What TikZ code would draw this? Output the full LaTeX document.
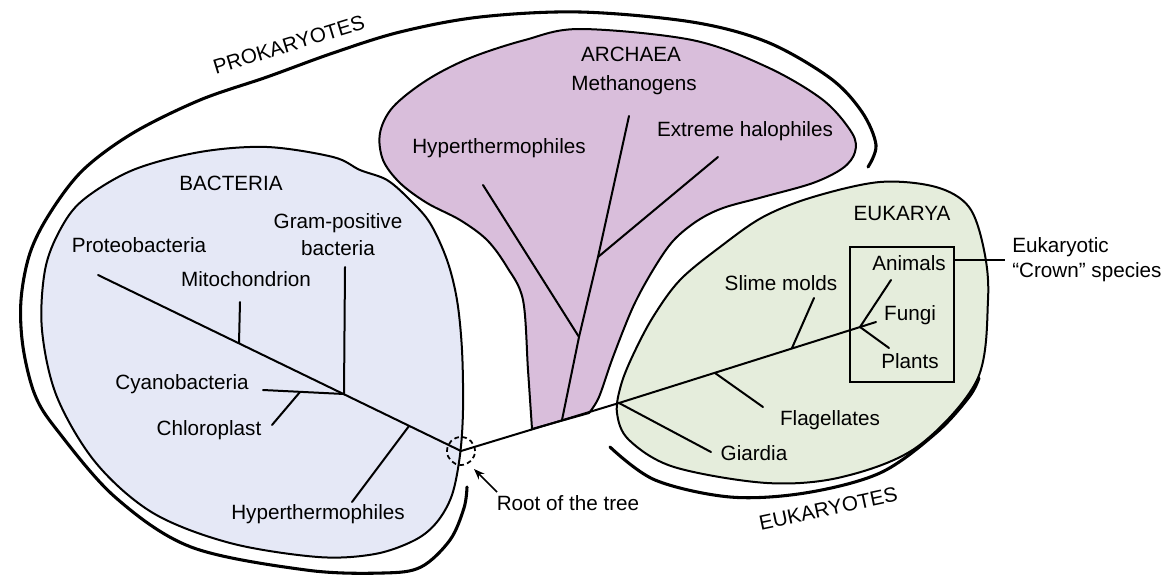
\documentclass[tikz,border=0pt]{standalone}
\usepackage{fontspec}
\setmainfont{Liberation Sans}
\usetikzlibrary{arrows.meta}
\definecolor{bactfill}{RGB}{229,232,246}
\definecolor{archfill}{RGB}{217,190,219}
\definecolor{eukfill}{RGB}{229,237,220}
\begin{document}
\begin{tikzpicture}[x=0.75pt,y=-0.75pt,
  lbl/.style={font=\fontsize{15.5}{19}\selectfont, inner sep=0pt, anchor=mid},
  twolbl/.style={font=\fontsize{15.5}{19}\selectfont, inner sep=0pt},
  treeline/.style={line width=1.5pt, line cap=round, line join=round},
  outline/.style={line width=1.5pt},
  bracket/.style={line width=2.3pt, line cap=round},
]
\useasboundingbox (0,0) rectangle (1167,578);
\fill[white] (0,0) rectangle (1167,578);

% ---------- regions ----------
\filldraw[fill=bactfill, outline] plot[smooth cycle, tension=0.55] coordinates {
 (83,200) (133,170) (200,152) (267,147) (333,157) (360,170) (387,180) (410,200)
 (430,223) (447,260) (457,300) (462,350) (463,410) (460,455) (452,495) (437,522)
 (415,540) (375,554) (318,557) (230,543) (153,513) (96,463) (57,397) (42,330)
 (45,270) (60,230)};

\filldraw[fill=archfill, outline] plot[smooth, tension=0.55] coordinates {
 (532,429) (528,370) (523,300) (507,267) (487,240) (460,220) (427,203) (400,183)
 (383,160) (380,133) (393,107) (427,80) (470,58) (525,40) (580,29) (692,40)
 (767,67) (823,100) (852,133) (855,152) (843,168) (813,183) (763,197) (723,208)
 (697,221) (673,241) (653,270) (633,307) (613,357) (599,397) (589,413)} -- cycle;

\filldraw[fill=eukfill, outline] plot[smooth cycle, tension=0.55] coordinates {
 (880,182) (936,187) (969,207) (984,250) (988,300) (977,380) (917,447) (842,477)
 (767,483) (674,467) (629,440) (617,413) (621,385) (633,355) (653,317) (680,280)
 (720,247) (763,217) (813,197)};

% ---------- brackets ----------
\draw[bracket] plot[smooth, tension=0.55] coordinates {
 (868,167) (876,145) (862,112) (830,78) (767,42) (692,22) (580,12) (480,17)
 (400,32) (333,53) (267,77) (200,100) (133,133) (83,170) (50,213) (30,253)
 (21,300) (23,347) (35,395) (57,430) (115,497) (191,547) (306,570) (383,573)
 (421,567) (450,540) (464,508) (467,487)};

\draw[bracket] plot[smooth, tension=0.55] coordinates {
 (610,447) (655,480) (730,497) (805,493) (880,473) (936,433) (969,397) (979,378)};

% ---------- tree coordinates ----------
\coordinate (root) at (461,451);
\coordinate (proteo) at (98,275);
\coordinate (mitoN) at (239,343);
\coordinate (mitoE) at (240,302);
\coordinate (gramN) at (344,394);
\coordinate (gramE) at (345,267);
\coordinate (cyanE) at (263,390);
\coordinate (chloN) at (300,392);
\coordinate (chloE) at (272,425);
\coordinate (bhypN) at (409,426);
\coordinate (bhypE) at (352,502);

\coordinate (archN) at (562,420);
\coordinate (archN1) at (579,337);
\coordinate (ahypE) at (483,185);
\coordinate (archN2) at (598,257);
\coordinate (methE) at (629,116);
\coordinate (haloE) at (718,157);

\coordinate (eukN) at (619,403);
\coordinate (giarE) at (711,452);
\coordinate (flagN) at (715,373);
\coordinate (flagE) at (763,407);
\coordinate (slimN) at (792,348);
\coordinate (slimE) at (814,298);
\coordinate (crownN) at (860,327);
\coordinate (fungE) at (876,322);
\coordinate (animE) at (891,280);
\coordinate (plantE) at (889,348);

% ---------- tree lines ----------
\draw[treeline] (proteo) -- (root) -- (eukN) -- (fungE);
\draw[treeline] (mitoN) -- (mitoE);
\draw[treeline] (gramN) -- (gramE);
\draw[treeline] (gramN) -- (cyanE);
\draw[treeline] (chloN) -- (chloE);
\draw[treeline] (bhypN) -- (bhypE);
\draw[treeline] (archN) -- (archN1) -- (ahypE);
\draw[treeline] (archN1) -- (archN2) -- (methE);
\draw[treeline] (archN2) -- (haloE);
\draw[treeline] (eukN) -- (giarE);
\draw[treeline] (flagN) -- (flagE);
\draw[treeline] (slimN) -- (slimE);
\draw[treeline] (crownN) -- (animE);
\draw[treeline] (crownN) -- (plantE);

% ---------- root marker ----------
\node[draw, circle, dashed, dash pattern=on 3.5pt off 2.5pt, line width=1.3pt,
      minimum size=21pt, inner sep=0pt] (rootcirc) at (root) {};
\node[lbl] (rootlbl) at (568,507) {Root of the tree};
\coordinate (arrT) at (497,492);
\coordinate (arrH) at (474,469);
\draw[line width=1.3pt, -{Stealth[length=8pt,width=6pt]}] (arrT) -- (arrH);

% ---------- crown box ----------
\node[draw, line width=1.5pt, inner sep=0pt, minimum width=78pt, minimum height=101.25pt]
  (crownbox) at (902,314.5) {};
\node[twolbl, align=left, anchor=west, font=\fontsize{15.5}{18.75}\selectfont]
  (crownlbl) at (1012,259.5) {Eukaryotic\\“Crown” species};
\draw[line width=1.5pt] (crownbox.east |- crownlbl.west) -- ([xshift=-5pt]crownlbl.west);

% ---------- labels ----------
\node[lbl, rotate=17] (prok) at (290,48) {PROKARYOTES};
\node[lbl, rotate=12] (euk) at (829,512) {EUKARYOTES};

\node[lbl] (bact) at (231,187) {BACTERIA};
\node[twolbl, align=center, font=\fontsize{15.5}{20.25}\selectfont] (gram) at (338,235) {Gram-positive\\bacteria};
\node[lbl] (proteolbl) at (139,249) {Proteobacteria};
\node[lbl] (mito) at (246,283) {Mitochondrion};
\node[lbl] (cyan) at (182,386) {Cyanobacteria};
\node[lbl] (chlo) at (209,432) {Chloroplast};
\node[lbl] (bhyp) at (318,516) {Hyperthermophiles};

\node[lbl] (arch) at (631,58) {ARCHAEA};
\node[lbl] (meth) at (634,87) {Methanogens};
\node[lbl] (ahyp) at (499,150) {Hyperthermophiles};
\node[lbl] (halo) at (745,133) {Extreme halophiles};

\node[lbl] (eukarya) at (902,217) {EUKARYA};
\node[lbl] (anim) at (909,267) {Animals};
\node[lbl] (fung) at (910,317) {Fungi};
\node[lbl] (plant) at (910,365) {Plants};
\node[lbl] (slime) at (781,287) {Slime molds};
\node[lbl] (flag) at (830,422) {Flagellates};
\node[lbl] (giar) at (754,457) {Giardia};
\end{tikzpicture}
\end{document}
